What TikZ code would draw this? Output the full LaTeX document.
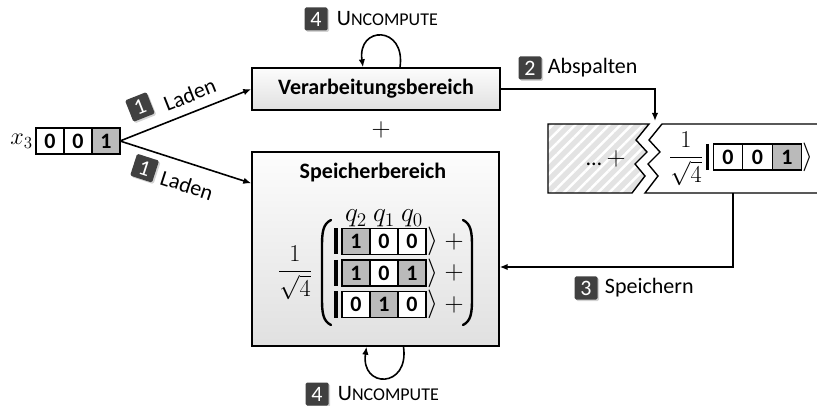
\documentclass[tikz,border=0pt]{standalone}
\usepackage{fix-cm}
\usepackage{amsmath}
\usepackage{fontspec}
\setmainfont{Carlito}
\usetikzlibrary{arrows.meta,positioning,patterns.meta,shadows}
\tikzset{
	arr/.style={line width=1.6pt,-{Latex[length=8pt,width=6.5pt]}},
	box/.style={draw,line width=1.4pt,top color=gray!2,bottom color=gray!24,inner sep=0pt},
	cell/.style={draw,line width=1.2pt,fill=white,minimum width=28pt,minimum height=26pt,
		inner sep=0pt,outer sep=0pt,font=\bfseries\fontsize{22}{24}\selectfont},
	hot/.style={cell,fill=black!27},
	badge/.style={fill=black!75,text=white,rounded corners=1.5pt,minimum width=23pt,
		minimum height=23pt,inner sep=0pt,
		drop shadow={shadow xshift=1.5pt,shadow yshift=-1.5pt,opacity=0.35}},
	lbl/.style={inner sep=0pt},
	ketbar/.style={line width=3.5pt},
	paren/.style={line width=2.4pt,line cap=round}
}
\newcommand{\uncomp}{U{\fontsize{18}{20}\selectfont NCOMPUTE}}
\newcommand{\mth}[2][1.3]{\scalebox{#1}{$#2$}}

\begin{document}
\begin{tikzpicture}[x=1pt,y=-1pt,font=\fontsize{22}{26}\selectfont]
	\useasboundingbox (0,0) rectangle (817,406);

	% input register
	\node[cell] (x0) at (50,141) {0};
	\node[cell,right=0pt of x0] (x1) {0};
	\node[hot,right=0pt of x1] (x2) {1};
	\node[left=3pt of x0,inner sep=0pt] (xlab) {\mth[1.1]{x_3}};

	% the two regions
	\node[box,minimum width=248pt,minimum height=42pt,font=\bfseries\fontsize{22}{26}\selectfont]
		(verarb) at (376,89) {Verarbeitungsbereich};
	\node (plus) at (381,130) {\mth[1.2]{+}};
	\node[box,minimum width=247pt,minimum height=194pt] (speicher) at (375.5,249) {};
	\node[font=\bfseries\fontsize{22}{26}\selectfont] (stitle) at (373,173) {Speicherbereich};

	% stored superposition
	\node (frac) at (295,273) {\mth[1.1]{\dfrac{1}{\sqrt{4}}}};
	\foreach \r/\y/\a/\b/\c/\fa/\fb/\fc in {0/241.5/1/0/0/hot/cell/cell,
			1/273/1/0/1/hot/cell/hot, 2/304.5/0/1/0/cell/hot/cell}{
		\node[\fa] (r\r0) at (356,\y) {\a};
		\node[\fb,right=0pt of r\r0] (r\r1) {\b};
		\node[\fc,right=0pt of r\r1] (r\r2) {\c};
		\draw[ketbar] ([xshift=-6pt]r\r0.north west) -- ([xshift=-6pt]r\r0.south west);
		\node[inner sep=0pt,right=1pt of r\r2] (k\r) {\mth{\rangle}};
		\node[inner sep=0pt,right=6pt of k\r] (p\r) {\mth[1.2]{+}};
	}
	\node[inner sep=1pt,above=0pt of r00] (q2) {\mth[1.25]{q_2}};
	\node[inner sep=1pt,above=0pt of r01] (q1) {\mth[1.25]{q_1}};
	\node[inner sep=1pt,above=0pt of r02] (q0) {\mth[1.25]{q_0}};
	\draw[paren] (331,220) .. controls (323,224) and (322,232) .. (322,246) -- (322,299)
		.. controls (322,313) and (323,321) .. (331,325);
	\draw[paren] (463,220) .. controls (471,224) and (472,232) .. (472,246) -- (472,299)
		.. controls (472,313) and (471,321) .. (463,325);

	% split-off state
	\draw[line width=1.4pt,pattern={Lines[angle=45,distance=8pt,line width=2.5pt]},
		pattern color=white,preaction={fill=gray!22}]
		(548,124) -- (649,124) -- (636,140) -- (647,152) -- (635,164) -- (645,176)
		-- (632,193) -- (548,193) -- cycle;
	\draw[line width=1.4pt,fill=white] (817,124) -- (662,124) -- (649,140) -- (660,152)
		-- (648,164) -- (658,176) -- (645,193) -- (817,193);
	\node (dots) at (606,159) {… \mth[1.2]{+}};
	\node (sfrac) at (686,159) {\mth[1.1]{\dfrac{1}{\sqrt{4}}}};
	\node[cell,minimum width=29.5pt] (s0) at (728,157) {0};
	\node[cell,minimum width=29.5pt,right=0pt of s0] (s1) {0};
	\node[hot,minimum width=29.5pt,right=0pt of s1] (s2) {1};
	\draw[ketbar] ([xshift=-6pt]s0.north west) -- ([xshift=-6pt]s0.south west);
	\node[inner sep=0pt,right=1pt of s2] (sk) {\mth{\rangle}};

	\coordinate (sin) at ([yshift=-32pt]speicher.north west);
	\coordinate (cut) at (655,121);
	\coordinate (splitout) at (733,193);
	\coordinate (store) at (733,267);

	% steps
	\draw[arr] (x2.east) -- (verarb.west)
		node[badge,pos=0.22,sloped,above=12pt] (b1a) {1}
		node[lbl,pos=0.58,sloped,above=9pt] (l1a) {Laden};
	\draw[arr] (x2.east) -- (sin)
		node[badge,pos=0.23,sloped,below=6pt] (b1b) {1}
		node[lbl,pos=0.56,sloped,below=13pt] (l1b) {Laden};
	\draw[arr] (verarb.east) -| (cut);
	\node[badge] (b2) at (530,68) {2};
	\node[lbl,right=6pt of b2] (l2) {Abspalten};
	\draw[arr] (splitout) -- (store) -- (store -| speicher.east);
	\node[badge] (b3) at (586,288) {3};
	\node[lbl,right=7pt of b3] (l3) {Speichern};

	\draw[arr] ([xshift=24pt]verarb.north) .. controls +(6,-42) and +(-6,-42) ..
		([xshift=-13pt]verarb.north);
	\node[badge] (b4a) at (316,19) {4};
	\node[lbl,right=9pt of b4a] (l4a) {\uncomp};
	\draw[arr] ([xshift=28pt]speicher.south) .. controls +(6,42) and +(-6,42) ..
		([xshift=-9pt]speicher.south);
	\node[badge] (b4b) at (317,394) {4};
	\node[lbl,right=9pt of b4b] (l4b) {\uncomp};
\end{tikzpicture}
\end{document}
